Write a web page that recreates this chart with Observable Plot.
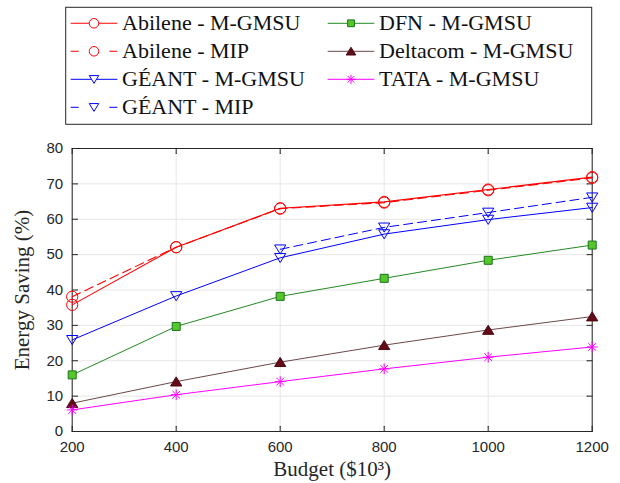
<!DOCTYPE html>
<html>
<head>
<meta charset="utf-8">
<script src="https://cdn.jsdelivr.net/npm/d3@7"></script>
<script src="https://cdn.jsdelivr.net/npm/@observablehq/plot@0.6"></script>
<style>
  html, body { margin: 0; padding: 0; background: #fff; }
  #fig { position: relative; width: 620px; height: 483px; }
  #fig svg { display: block; }
  #legend { position: absolute; left: 0; top: 0; }
  .serif { font-family: "Liberation Serif", "DejaVu Serif", "Noto Serif", "FreeSerif", "Nimbus Roman", Times, serif !important; }
</style>
</head>
<body>
<div id="fig"></div>
<script>
// Budget levels (thousands of dollars)
const budget = [200, 400, 600, 800, 1000, 1200];

// Energy saving (%) per topology and method (null where not computed)
const abileneGmsu  = [35.8, 52.1, 63.1, 64.9, 68.4, 71.9];
const abileneMip   = [38.1, 52.1, 63.0, 64.7, 68.2, 71.7];
const geantGmsu    = [25.9, 38.3, 49.1, 55.8, 59.9, 63.3];
const geantMip     = [null, null, 51.5, 57.7, 61.9, 66.2];
const dfnGmsu      = [16.0, 29.7, 38.2, 43.3, 48.4, 52.7];
const deltacomGmsu = [ 8.0, 14.1, 19.6, 24.4, 28.7, 32.5];
const tataGmsu     = [ 6.1, 10.4, 14.1, 17.7, 21.0, 23.9];

const seriesNames = [
  "Abilene - M-GMSU", "Abilene - MIP", "GÉANT - M-GMSU", "GÉANT - MIP",
  "DFN - M-GMSU", "Deltacom - M-GMSU", "TATA - M-GMSU"
];
const seriesValues = [abileneGmsu, abileneMip, geantGmsu, geantMip, dfnGmsu, deltacomGmsu, tataGmsu];

// Axis ticks
const xTicks = [200, 400, 600, 800, 1000, 1200];
const yTicks = [0, 10, 20, 30, 40, 50, 60, 70, 80];
const xLabel = "Budget ($10³)";
const yLabel = "Energy Saving (%)";

// Marker shapes (size is an area; recover a radius from it)
const shape = (f) => ({ draw(c, size) { f(c, Math.sqrt(size / Math.PI)); } });
const circle = shape((c, r) => { c.moveTo(r, 0); c.arc(0, 0, r, 0, 2 * Math.PI); });
const triDown = shape((c, r) => { c.moveTo(-r, -0.78 * r); c.lineTo(r, -0.78 * r); c.lineTo(0, 0.85 * r); c.closePath(); });
const triUp = shape((c, r) => { c.moveTo(-r, 0.78 * r); c.lineTo(r, 0.78 * r); c.lineTo(0, -0.85 * r); c.closePath(); });
const square = shape((c, r) => { c.rect(-r, -r, 2 * r, 2 * r); });
const star = shape((c, r) => {
  for (let k = 0; k < 4; k++) {
    const a = k * Math.PI / 4;
    c.moveTo(r * Math.cos(a), r * Math.sin(a));
    c.lineTo(-r * Math.cos(a), -r * Math.sin(a));
  }
});

// Per-series drawing style
const styles = [
  {stroke: "#ff0000", dash: null,  sym: circle,  r: 5.6, fill: "none",    mstroke: "#ff0000", lw: 1.1},
  {stroke: "#ff0000", dash: "9,5", sym: circle,  r: 5.6, fill: "none",    mstroke: "#ff0000", lw: 1.1},
  {stroke: "#0000ff", dash: null,  sym: triDown, r: 5.6, fill: "none",    mstroke: "#0000ff", lw: 1.0},
  {stroke: "#0000ff", dash: "9,5", sym: triDown, r: 5.6, fill: "none",    mstroke: "#0000ff", lw: 1.0},
  {stroke: "#238a23", dash: null,  sym: square,  r: 4.0, fill: "#56c72a", mstroke: "#17731a", lw: 1.0},
  {stroke: "#6e4848", dash: null,  sym: triUp,   r: 5.6, fill: "#650b18", mstroke: "#4a0810", lw: 1.0},
  {stroke: "#ff00ff", dash: null,  sym: star,    r: 5.4, fill: "none",    mstroke: "#ff00ff", lw: 1.0}
];

const rows = seriesNames.map((name, i) =>
  budget.map((b, j) => ({series: name, budget: b, saving: seriesValues[i][j]})));

const tickLine = {shape: "arrow", r: 0, length: 5, anchor: "start", stroke: "#262626", strokeWidth: 1};

const marks = [
  Plot.gridX(xTicks, {stroke: "#e6e6e6", strokeOpacity: 1}),
  Plot.gridY(yTicks, {stroke: "#e6e6e6", strokeOpacity: 1}),
  // inward ticks on all four sides
  Plot.vector(xTicks, {...tickLine, x: d => d, y: 0, rotate: 0}),
  Plot.vector(xTicks, {...tickLine, x: d => d, y: 80, rotate: 180}),
  Plot.vector(yTicks, {...tickLine, y: d => d, x: 200, rotate: 90}),
  Plot.vector(yTicks, {...tickLine, y: d => d, x: 1200, rotate: -90}),
  Plot.frame({stroke: "#262626", strokeWidth: 1}),
  Plot.axisX(xTicks, {anchor: "bottom", tickSize: 0, tickPadding: 10, label: null, fill: "#262626",
    tickFormat: d => String(d)}),
  Plot.axisY(yTicks, {anchor: "left", tickSize: 0, tickPadding: 9, label: null, fill: "#262626",
    tickFormat: d => String(d)}),
  Plot.text([xLabel], {frameAnchor: "bottom", text: d => d, dy: 30, lineAnchor: "top",
    textAnchor: "middle", fontSize: 21, fill: "#262626", className: "serif"}),
  Plot.text([yLabel], {frameAnchor: "left", text: d => d, dx: -50, rotate: -90,
    textAnchor: "middle", fontSize: 21, fill: "#262626", className: "serif"})
];

rows.forEach((data, i) => {
  const s = styles[i];
  marks.push(Plot.line(data, {x: "budget", y: "saving", stroke: s.stroke, strokeWidth: s.lw,
    strokeDasharray: s.dash}));
});
rows.forEach((data, i) => {
  const s = styles[i];
  marks.push(Plot.dot(data, {x: "budget", y: "saving", symbol: s.sym, r: s.r,
    fill: s.fill, stroke: s.mstroke, strokeWidth: 1}));
});

const chart = Plot.plot({
  width: 620,
  height: 483,
  marginTop: 148,
  marginRight: 28.3,
  marginBottom: 52,
  marginLeft: 71.7,
  style: {fontFamily: "'Liberation Sans', Arial, sans-serif", fontSize: "15px", background: "#fff", color: "#262626"},
  x: {domain: [200, 1200]},
  y: {domain: [0, 80]},
  marks
});

const fig = document.getElementById("fig");
fig.appendChild(chart);

// Legend box with line samples and markers, two columns
const leg = d3.select(fig).append("svg").attr("id", "legend")
  .attr("width", 620).attr("height", 130);
leg.append("rect").attr("x", 65.7).attr("y", 7.3).attr("width", 526).attr("height", 117)
  .attr("fill", "#fff").attr("stroke", "#262626").attr("stroke-width", 1);

const colX = [70.7, 327.7];
const rowY = [23.3, 51.3, 79.3, 107.3];
seriesNames.forEach((name, i) => {
  const s = styles[i];
  const col = i < 4 ? 0 : 1;
  const row = i < 4 ? i : i - 4;
  const x0 = colX[col], cy = rowY[row];
  const g = leg.append("g");
  const line = g.append("line").attr("x1", x0).attr("x2", x0 + 46.6).attr("y1", cy).attr("y2", cy)
    .attr("stroke", s.stroke).attr("stroke-width", s.lw);
  if (s.dash) line.attr("stroke-dasharray", "8,15.3,0,15.3,8");
  const rr = s.r * 0.85;
  g.append("path").attr("d", d3.symbol(s.sym, Math.PI * rr * rr)())
    .attr("transform", `translate(${x0 + 23.3},${cy})`)
    .attr("fill", s.fill === "none" ? "#fff" : s.fill).attr("stroke", s.mstroke).attr("stroke-width", 1);
  g.append("text").attr("class", "serif").attr("x", x0 + 51.3).attr("y", cy + 6.2).text(name)
    .attr("font-size", 22).attr("fill", "#111");
});
</script>
</body>
</html>
